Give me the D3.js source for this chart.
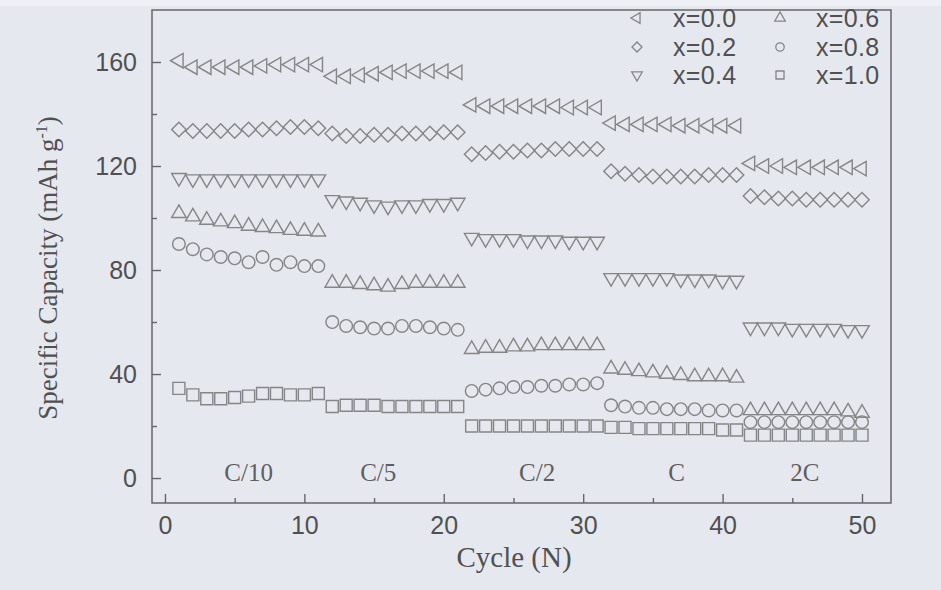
<!DOCTYPE html>
<html>
<head>
<meta charset="utf-8">
<script src="https://cdn.jsdelivr.net/npm/d3@7"></script>
<style>
  html, body { margin: 0; padding: 0; background: #e6e8f0; }
  svg { display: block; }
</style>
</head>
<body>
<svg id="chart" width="941" height="590"></svg>
<script>
// Rate-capability data: specific capacity (mAh/g) per cycle for each composition.
// Cycles 1-11 at C/10, 12-21 at C/5, 22-31 at C/2, 32-41 at C, 42-50 at 2C.
const cycles = d3.range(1, 51);

const x00 = [160.5,158,158,158,158,158,158.5,159,159,159,159,
             154.5,154.5,155,155.5,156,156.5,156.5,156.5,156.5,156,
             143.5,143,143,143,143,143,143,142.5,142.5,142.5,
             136.5,136,136,136,136,135.5,135.5,135.5,135.5,135.5,
             121,120,120,119.5,119.5,119.5,119.5,119.5,119];
const x02 = [134,133.5,133.5,133.5,133.5,134,134,134.5,135,135,134.5,
             132.5,131.5,131.5,132,132,132.5,132.5,132.5,133,133,
             124.5,125,125.5,125.5,126,126,126.5,126.5,126.5,126.5,
             118,117,116.5,116,116,116,116,116.5,116.5,116.5,
             108.5,108,107.5,107.5,107,107,107,107,107];
const x04 = [115.5,115,115,115,115,115,115,115,115,115,115,
             107,106.5,106,105,104.5,105,105,105.5,105.5,106,
             92.5,92,92,92,91.5,91.5,91.5,91,91,91,
             77,77,77,77,77,76.5,76.5,76.5,76,76,
             58,58,58,57.5,57.5,57.5,57.5,57,57];
const x06 = [101.8,100.5,99.2,98.6,97.9,96.9,96.4,96,95.3,95,94.7,
             75,75,74.5,74,73.5,74.5,75,75,75,75,
             49.5,50,50,50.5,50.5,51,51,51,51,51,
             42,41.5,41,40.5,40,39.5,39,39,39,38.5,
             26,26,26,26,26,26,26,25.5,25];
const x08 = [90,88,86,85,84.5,83,85,82,83,81.5,81.5,
             60,58.5,58,57.5,57.5,58.5,58.5,58,57.5,57,
             33.5,34,34.5,35,35,35.5,35.5,36,36,36.5,
             28,27.5,27,27,26.5,26.5,26.5,26,26,26,
             21.5,21.5,21.5,21.5,21.5,21.5,21.5,21.5,21.5];
const x10 = [34.5,32,30.5,30.5,31,31.5,32.5,32.5,32,32,32.5,
             27.5,28,28,28,27.5,27.5,27.5,27.5,27.5,27.5,
             20,20,20,20,20,20,20,20,20,20,
             19.5,19.5,19,19,19,19,19,19,18.5,18.5,
             16.5,16.5,16.5,16.5,16.5,16.5,16.5,16.5,16.5];

const seriesNames = ["x=0.0", "x=0.2", "x=0.4", "x=0.6", "x=0.8", "x=1.0"];
const seriesValues = [x00, x02, x04, x06, x08, x10];
const seriesShapes = ["triLeft", "diamond", "triDown", "triUp", "circle", "square"];

const rateLabels = ["C/10", "C/5", "C/2", "C", "2C"];
const ratePositions = [6, 15.3, 26.7, 36.7, 45.9];

const xTicks = [0, 10, 20, 30, 40, 50];
const xMinorTicks = [5, 15, 25, 35, 45];
const yTicks = [0, 40, 80, 120, 160];
const yMinorTicks = [20, 60, 100, 140];

// Layout
const frame = { left: 152, right: 891, top: 10, bottom: 503 };
const svg = d3.select("#chart");

const x = d3.scaleLinear().domain([-0.93, 52.08]).range([frame.left, frame.right]);
const y = d3.scaleLinear().domain([-9.6, 180]).range([frame.bottom, frame.top]);

const ink = "#505050";
const markInk = "#858585";
const sans = "'Liberation Sans', Arial, sans-serif";
const serif = "'Liberation Serif', 'Times New Roman', serif";

// Marker path generator (sizes in px)
function markerPath(shape, s) {
  const sym = d3.symbol();
  const triArea = Math.sqrt(3) / 4 * s.tr * s.tr;
  switch (shape) {
    case "circle": return { d: sym.type(d3.symbolCircle).size(Math.PI * s.r * s.r)(), rot: 0 };
    case "square": return { d: sym.type(d3.symbolSquare).size(s.sq * s.sq)(), rot: 0 };
    case "diamond": return { d: sym.type(d3.symbolSquare).size(s.dm * s.dm / 2)(), rot: 45 };
    case "triUp": return { d: sym.type(d3.symbolTriangle).size(triArea)(), rot: 0 };
    case "triDown": return { d: sym.type(d3.symbolTriangle).size(triArea)(), rot: 180 };
    case "triLeft": return { d: sym.type(d3.symbolTriangle).size(triArea)(), rot: -90 };
  }
}
const plotSize = { r: 6.3, sq: 12, dm: 14.5, tr: 14.5 };
const legendSize = { r: 4.2, sq: 8, dm: 10, tr: 10.5 };

// Background
svg.append("rect").attr("width", 941).attr("height", 590).attr("fill", "#e6e8f0");
svg.append("rect").attr("width", 941).attr("height", 6).attr("fill", "#eef0f5");

// Data markers
const plot = svg.append("g");
seriesValues.forEach((vals, i) => {
  const m = markerPath(seriesShapes[i], plotSize);
  plot.append("g").selectAll("path")
    .data(cycles.map((c, k) => [c, vals[k]]))
    .join("path")
    .attr("d", m.d)
    .attr("transform", d => `translate(${x(d[0])},${y(d[1])}) rotate(${m.rot})`)
    .attr("fill", "none")
    .attr("stroke", markInk)
    .attr("stroke-width", 1.4);
});

// Frame
svg.append("rect")
  .attr("x", frame.left).attr("y", frame.top)
  .attr("width", frame.right - frame.left).attr("height", frame.bottom - frame.top)
  .attr("fill", "none").attr("stroke", "#666").attr("stroke-width", 1.5);

// Axes with inward ticks
svg.append("g").attr("transform", `translate(0,${frame.bottom})`)
  .call(d3.axisBottom(x).tickValues(xTicks).tickSize(-9).tickPadding(13).tickFormat(d3.format("d")));
svg.append("g").attr("transform", `translate(0,${frame.bottom})`)
  .call(d3.axisBottom(x).tickValues(xMinorTicks).tickSize(-5).tickFormat(""));
svg.append("g").attr("transform", `translate(${frame.left},0)`)
  .call(d3.axisLeft(y).tickValues(yTicks).tickSize(-9).tickPadding(15).tickFormat(d3.format("d")));
svg.append("g").attr("transform", `translate(${frame.left},0)`)
  .call(d3.axisLeft(y).tickValues(yMinorTicks).tickSize(-5).tickFormat(""));

svg.selectAll(".domain").remove();
svg.selectAll(".tick line").attr("stroke", "#666").attr("stroke-width", 1.4);
svg.selectAll(".tick text")
  .attr("fill", ink)
  .style("font-family", sans)
  .style("font-size", "25px");

// Rate labels
svg.append("g").selectAll("text")
  .data(rateLabels)
  .join("text")
  .attr("x", (d, i) => x(ratePositions[i]))
  .attr("y", y(2.3))
  .attr("dy", "0.35em")
  .attr("text-anchor", "middle")
  .attr("fill", "#5e5e5e")
  .style("font-family", serif)
  .style("font-size", "25px")
  .text(d => d);

// Axis titles
svg.append("text")
  .attr("x", 514).attr("y", 567)
  .attr("text-anchor", "middle")
  .attr("fill", ink)
  .style("font-family", serif)
  .style("font-size", "29px")
  .text("Cycle (N)");

const yTitle = svg.append("text")
  .attr("transform", "translate(57,268) rotate(-90)")
  .attr("text-anchor", "middle")
  .attr("fill", ink)
  .style("font-family", serif)
  .style("font-size", "27px");
yTitle.append("tspan").text("Specific Capacity (mAh g");
yTitle.append("tspan").attr("dy", -10).style("font-size", "16px").text("-1");
yTitle.append("tspan").attr("dy", 10).text(")");

// Legend: two columns of three
const legendCols = [637, 780];
const legendRows = [18, 47, 75];
const legend = svg.append("g");
seriesNames.forEach((name, i) => {
  const col = Math.floor(i / 3), row = i % 3;
  const m = markerPath(seriesShapes[i], legendSize);
  legend.append("path")
    .attr("d", m.d)
    .attr("transform", `translate(${legendCols[col]},${legendRows[row]}) rotate(${m.rot})`)
    .attr("fill", "none").attr("stroke", markInk).attr("stroke-width", 1.3);
  legend.append("text")
    .attr("x", legendCols[col] + 36).attr("y", legendRows[row])
    .attr("dy", "0.35em")
    .attr("fill", ink)
    .style("font-family", sans)
    .style("font-size", "25px")
    .style("letter-spacing", "0.3px")
    .text(name);
});
</script>
</body>
</html>
